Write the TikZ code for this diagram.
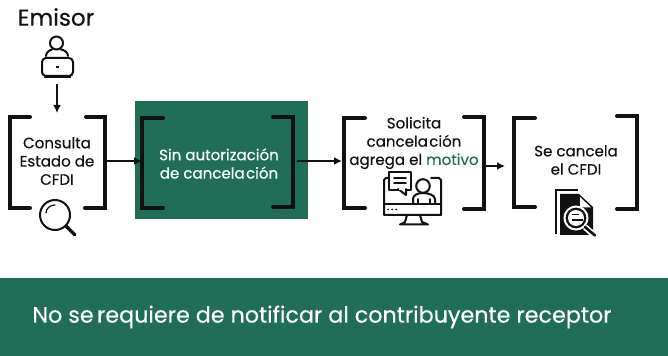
\documentclass[tikz,border=0pt]{standalone}
\usepackage{fontspec}
\setmainfont[FakeBold=0.25]{Poppins}
\definecolor{verde}{HTML}{216E58}
\definecolor{tinta}{HTML}{111111}
\usetikzlibrary{arrows.meta}
\tikzset{
  x=0.75pt,y=-0.75pt,
  brk/.style={draw=tinta,line width=3pt,line cap=round,line join=miter},
  conn/.style={draw=tinta,line width=2.1pt,-{Latex[length=6pt,width=6pt]}},
  lbl/.style={align=center,text=tinta,font=\fontsize{11.3pt}{13.7pt}\selectfont,inner sep=0pt},
  ico/.style={draw=tinta,line width=1.5pt,line join=round,line cap=round},
}
\begin{document}
\begin{tikzpicture}
\useasboundingbox (0,0) rectangle (668,356);
\fill[white] (0,0) rectangle (668,356);
\fill[verde] (135,101) rectangle (308,219);
\fill[verde] (0,278) rectangle (668,356);
% brackets
\draw[brk] (30,117)--(10,117)--(10,208)--(30,208);
\draw[brk] (86,117)--(105,117)--(105,208)--(85,208);
\draw[brk] (163,118)--(142,118)--(142,208)--(163,208);
\draw[brk] (273,117)--(293,117)--(293,207)--(273,207);
\draw[brk] (365,118)--(344,118)--(344,208)--(365,208);
\draw[brk] (464,117)--(484,117)--(484,209)--(464,209);
\draw[brk] (535,118)--(514,118)--(514,207)--(535,207);
\draw[brk] (617,116)--(637,116)--(637,209)--(617,209);
% labels
\node[inner sep=0pt,text=tinta,font=\fontsize{17.3pt}{20pt}\selectfont] (emisor) at (56,17) {Emisor};
\node[lbl] (n1) at (57,161) {Consulta\\Estado de\\CFDI};
\node[lbl,text=white] (n2) at (219,163.5) {Sin autorización\\de cancela\kern1pt ción};
\node[lbl] (n3) at (414,143) {Solicita\\cancela\kern1pt ción\\agrega el\kern3pt\textcolor{verde}{motivo}};
\node[lbl] (n4) at (576,160) {Se cancela\\el CFDI};
\node[inner sep=0pt,text=white,font=\fontsize{16.7pt}{20pt}\selectfont] (banda) at (322,317) {No se\kern2.5pt requiere de notificar al contribuyente receptor};
% connector anchors
\coordinate (a0) at (57,84); \coordinate (a1) at (57,113);
\coordinate (b0) at (107,161); \coordinate (b1) at (142,161);
\coordinate (c0) at (297,161); \coordinate (c1) at (342,161);
\coordinate (d0) at (486,166); \coordinate (d1) at (505,166);
\draw[conn] (a0)--(a1);
\draw[conn] (b0)--(b1);
\draw[conn] (c0)--(c1);
\draw[conn] (d0)--(d1);
% emisor icon
\draw[ico] (56.5,43) circle (6.5);
\draw[ico] (46,56) .. controls (46,52) and (50,50) .. (52,49.5);
\draw[ico] (68,56) .. controls (68,52) and (64,50) .. (61,49.5);
\draw[ico,rounded corners=3pt] (42,58) rectangle (73,76);
\draw[line width=2.2pt,tinta] (44,77)--(71,77);
\fill[tinta] (55.5,66) rectangle (59,68);
% magnifier
\draw[ico] (55,215) circle (15);
\draw[ico,line width=2.4pt] (66,226)--(75,235);
\draw[ico,line width=.9pt] (46,213) arc (180:270:9 and 8);
% monitor icon
\draw[ico] (389,178)--(386,178)--(384,180)--(384,215)--(441,215)--(441,180)--(439,178)--(431,178);
\draw[ico] (384,204)--(441,204);
\fill[tinta] (388,209.5) circle (1) (392,209.5) circle (1) (396,209.5) circle (1);
\draw[ico] (407,215)--(405,222)--(400,224.5)--(428,224.5)--(422,222)--(420,215);
\draw[ico,fill=white] (389,172) rectangle (411,190);
\draw[ico,fill=white] (398,189)--(406,195)--(406,189);
\draw[white,line width=1.2pt] (399,189.6)--(405,189.6);
\draw[ico,line width=1.2pt] (394,178)--(406,178) (394,183)--(406,183);
\draw[ico,fill=white] (423,186) circle (6.8);
\draw[ico] (413,204)--(413,199) .. controls (413,195) and (418,193) .. (423,193) .. controls (428,193) and (435,195) .. (435,199)--(435,204);
\draw[ico,line width=1.2pt] (418,204)--(418,199) (430,204)--(430,199);
% document icon
\draw[tinta,line width=1pt] (556,234)--(556,190)--(578,190);
\fill[tinta] (560,194)--(579,194)--(593,207)--(593,235)--(560,235)--cycle;
\fill[white] (580,197)--(591,207.5)--(580,207.5)--cycle;
\draw[white,line width=1.5pt,fill=tinta] (576,218) circle (11.5);
\fill[white] (576,218) circle (8);
\draw[tinta,line width=1.1pt] (572,214.5)--(579,214.5) (572,220)--(583,220);
\draw[white,line width=4.5pt] (585,227)--(594,235);
\draw[ico,line width=2pt] (585,227)--(595,235.5);
\end{tikzpicture}
\end{document}
